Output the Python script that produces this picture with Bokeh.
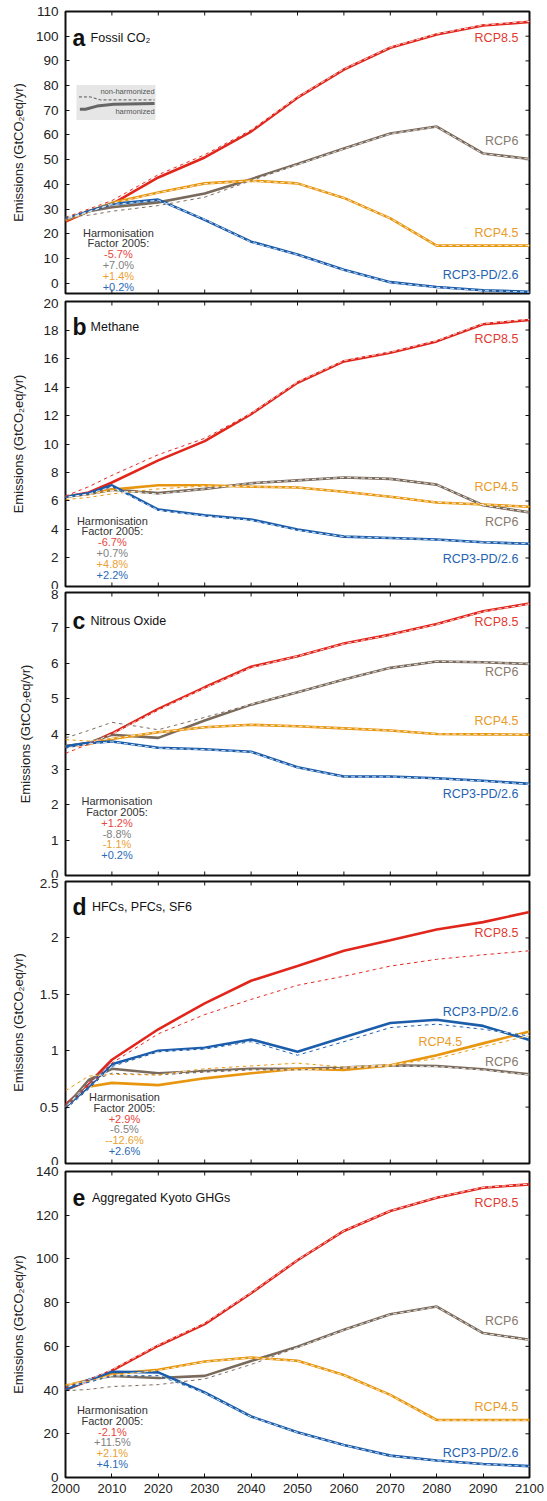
import math
from bokeh.plotting import figure
from bokeh.layouts import column
from bokeh.models import FixedTicker, Label, Range1d, CustomJSTickFormatter, AllLabels
from bokeh.embed import file_html
from bokeh.resources import INLINE

FONT = "Liberation Sans"

# ---------------- data ----------------
years = [2000, 2005, 2010, 2020, 2030, 2040, 2050, 2060, 2070, 2080, 2090, 2100]
scenarios = ["RCP8.5", "RCP6", "RCP4.5", "RCP3-PD/2.6"]
x_ticks = [2000, 2010, 2020, 2030, 2040, 2050, 2060, 2070, 2080, 2090, 2100]

# (a) Fossil CO2  -- harmonized (h) and non-harmonized (n)
co2_rcp85_h = [24.9, 29.1, 32.0, 42.8, 50.9, 61.4, 75.1, 86.5, 95.3, 100.7, 104.3, 105.8]
co2_rcp85_n = [26.6, 30.0, 33.4, 43.9, 52.0, 62.0, 75.3, 86.7, 95.5, 100.9, 104.5, 106.0]
co2_rcp6_h = [25.5, 29.1, 30.7, 32.7, 36.3, 42.1, 48.2, 54.5, 60.6, 63.4, 52.5, 50.3]
co2_rcp6_n = [26.9, 27.5, 29.1, 31.4, 34.8, 41.5, 48.0, 54.4, 60.5, 63.3, 52.4, 50.2]
co2_rcp45_h = [25.5, 29.1, 32.5, 36.7, 40.4, 41.5, 40.4, 34.5, 26.2, 15.2, 15.2, 15.2]
co2_rcp45_n = [25.8, 28.7, 32.3, 36.6, 40.3, 41.4, 40.4, 34.5, 26.2, 15.2, 15.2, 15.2]
co2_rcp26_h = [26.0, 29.1, 32.0, 33.8, 25.6, 16.8, 11.6, 5.4, 0.4, -1.6, -2.9, -3.5]
co2_rcp26_n = [26.2, 29.0, 31.8, 33.6, 25.8, 16.6, 11.5, 5.3, 0.3, -1.7, -3.0, -3.6]
co2_factor = ["-5.7%", "+7.0%", "+1.4%", "+0.2%"]

# (b) Methane
ch4_rcp85_h = [6.3, 6.6, 7.3, 8.85, 10.2, 12.1, 14.3, 15.8, 16.4, 17.2, 18.4, 18.7]
ch4_rcp85_n = [6.35, 7.0, 7.8, 9.25, 10.4, 12.15, 14.35, 15.85, 16.45, 17.25, 18.45, 18.75]
ch4_rcp6_h = [6.3, 6.5, 6.8, 6.55, 6.85, 7.25, 7.45, 7.65, 7.55, 7.15, 5.7, 5.2]
ch4_rcp6_n = [6.25, 6.45, 6.75, 6.5, 6.85, 7.25, 7.45, 7.65, 7.55, 7.15, 5.7, 5.2]
ch4_rcp45_h = [6.3, 6.5, 6.8, 7.1, 7.1, 7.0, 6.95, 6.65, 6.3, 5.9, 5.75, 5.6]
ch4_rcp45_n = [6.1, 6.25, 6.5, 6.85, 7.05, 7.0, 6.95, 6.65, 6.3, 5.9, 5.75, 5.6]
ch4_rcp26_h = [6.3, 6.55, 7.1, 5.4, 5.0, 4.7, 4.0, 3.5, 3.4, 3.3, 3.1, 3.0]
ch4_rcp26_n = [6.25, 6.5, 7.0, 5.35, 4.95, 4.65, 3.95, 3.5, 3.4, 3.28, 3.1, 3.0]
ch4_factor = ["-6.7%", "+0.7%", "+4.8%", "+2.2%"]

# (c) Nitrous oxide
n2o_rcp85_h = [3.65, 3.72, 4.02, 4.71, 5.32, 5.9, 6.2, 6.56, 6.81, 7.11, 7.47, 7.69]
n2o_rcp85_n = [3.45, 3.72, 4.0, 4.68, 5.3, 5.88, 6.2, 6.55, 6.8, 7.1, 7.46, 7.68]
n2o_rcp6_h = [3.65, 3.75, 3.98, 3.89, 4.38, 4.83, 5.18, 5.54, 5.87, 6.05, 6.03, 5.98]
n2o_rcp6_n = [3.89, 4.1, 4.33, 4.12, 4.47, 4.84, 5.18, 5.54, 5.87, 6.05, 6.03, 5.98]
n2o_rcp45_h = [3.65, 3.72, 3.86, 4.05, 4.19, 4.26, 4.22, 4.16, 4.1, 4.0, 3.99, 3.98]
n2o_rcp45_n = [3.84, 3.8, 3.87, 4.05, 4.19, 4.26, 4.22, 4.16, 4.1, 4.0, 3.99, 3.98]
n2o_rcp26_h = [3.65, 3.75, 3.79, 3.61, 3.57, 3.5, 3.06, 2.8, 2.8, 2.75, 2.68, 2.59]
n2o_rcp26_n = [3.6, 3.72, 3.78, 3.6, 3.56, 3.49, 3.05, 2.79, 2.79, 2.74, 2.67, 2.58]
n2o_factor = ["+1.2%", "-8.8%", "-1.1%", "+0.2%"]

# (d) HFCs, PFCs, SF6
hfc_rcp85_h = [0.52, 0.71, 0.92, 1.19, 1.42, 1.62, 1.75, 1.886, 1.98, 2.075, 2.14, 2.23]
hfc_rcp85_n = [0.5, 0.69, 0.89, 1.15, 1.32, 1.455, 1.58, 1.66, 1.75, 1.81, 1.85, 1.886]
hfc_rcp6_h = [0.5, 0.74, 0.84, 0.80, 0.82, 0.84, 0.84, 0.85, 0.87, 0.865, 0.835, 0.79]
hfc_rcp6_n = [0.5, 0.72, 0.80, 0.785, 0.81, 0.83, 0.83, 0.845, 0.865, 0.86, 0.83, 0.785]
hfc_rcp45_h = [0.5, 0.68, 0.715, 0.695, 0.755, 0.80, 0.84, 0.83, 0.87, 0.96, 1.065, 1.17]
hfc_rcp45_n = [0.645, 0.775, 0.79, 0.785, 0.84, 0.865, 0.89, 0.855, 0.875, 0.93, 1.035, 1.135]
hfc_rcp26_h = [0.5, 0.68, 0.88, 1.0, 1.025, 1.1, 0.99, 1.12, 1.245, 1.275, 1.22, 1.095]
hfc_rcp26_n = [0.48, 0.66, 0.86, 0.99, 1.015, 1.08, 0.96, 1.08, 1.205, 1.235, 1.19, 1.13]
hfc_factor = ["+2.9%", "-6.5%", "--12.6%", "+2.6%"]

# (e) Aggregated Kyoto GHGs
ghg_rcp85_h = [40.1, 44.3, 48.9, 60.3, 70.2, 84.3, 99.4, 112.8, 121.9, 128.0, 132.6, 134.1]
ghg_rcp85_n = [41.0, 44.8, 49.3, 60.6, 70.6, 84.5, 99.5, 112.9, 122.0, 128.1, 132.7, 134.2]
ghg_rcp6_h = [40.1, 44.6, 46.5, 45.5, 46.5, 53.3, 59.8, 67.6, 74.7, 78.2, 66.1, 63.0]
ghg_rcp6_n = [39.7, 40.3, 41.6, 42.5, 45.1, 51.7, 59.5, 67.5, 74.6, 78.1, 66.0, 62.9]
ghg_rcp45_h = [42.0, 44.6, 47.3, 49.3, 53.1, 54.9, 53.4, 46.9, 37.8, 26.3, 26.3, 26.3]
ghg_rcp45_n = [42.5, 44.0, 46.8, 49.0, 53.0, 54.8, 53.3, 46.8, 37.7, 26.2, 26.2, 26.2]
ghg_rcp26_h = [40.5, 44.6, 48.4, 48.1, 38.9, 27.9, 20.7, 14.9, 10.0, 7.8, 6.2, 5.2]
ghg_rcp26_n = [41.6, 43.5, 46.5, 46.6, 38.7, 27.8, 20.6, 14.8, 9.9, 7.7, 6.1, 5.1]
ghg_factor = ["-2.1%", "+11.5%", "+2.1%", "+4.1%"]

# legend sample (panel a)
legend_dash_x = [2002.9, 2005.4, 2007.5, 2019.2]
legend_dash_y = [75.4, 75.4, 74.2, 74.2]
legend_solid_x = [2003.1, 2004.3, 2006.8, 2010.4, 2019.2]
legend_solid_y = [70.4, 70.4, 71.7, 72.4, 72.7]

# ---------------- styling ----------------
line_colors = ["#e1261c", "#7a6a5c", "#e8960f", "#1b5dab"]
label_colors = ["#e23a30", "#877a6f", "#e99b28", "#2563b1"]
pct_colors = ["#e8463d", "#7f7f7f", "#eba133", "#2a69b8"]
TXT = "#222222"
TICK = "#111111"

panels = [
    dict(letter="a", name="Fossil CO\u2082",
         series=[(co2_rcp85_h, co2_rcp85_n), (co2_rcp6_h, co2_rcp6_n),
                 (co2_rcp45_h, co2_rcp45_n), (co2_rcp26_h, co2_rcp26_n)],
         factor=co2_factor, yr=(-4.2, 110), yticks=list(range(0, 111, 10)),
         fh=282, top=11, bottom=5, ylab_standoff=7,
         lab_y=[99.2, 57.6, 20.5, 3.1], lab_x=[2097.6] * 4,
         title_y=99.3, harm=(2011.4, 20.5)),
    dict(letter="b", name="Methane",
         series=[(ch4_rcp85_h, ch4_rcp85_n), (ch4_rcp6_h, ch4_rcp6_n),
                 (ch4_rcp45_h, ch4_rcp45_n), (ch4_rcp26_h, ch4_rcp26_n)],
         factor=ch4_factor, yr=(0, 20), yticks=list(range(0, 21, 2)),
         fh=285, top=3, bottom=3, ylab_standoff=14,
         lab_y=[17.4, 4.5, 6.97, 1.94], lab_x=[2097.6] * 4,
         title_y=18.2, harm=(2010.1, 4.63)),
    dict(letter="c", name="Nitrous Oxide",
         series=[(n2o_rcp85_h, n2o_rcp85_n), (n2o_rcp6_h, n2o_rcp6_n),
                 (n2o_rcp45_h, n2o_rcp45_n), (n2o_rcp26_h, n2o_rcp26_n)],
         factor=n2o_factor, yr=(0, 8), yticks=list(range(0, 9)),
         fh=283, top=3, bottom=3, ylab_standoff=15,
         lab_y=[7.16, 5.74, 4.36, 2.31], lab_x=[2097.6] * 4,
         title_y=7.2, harm=(2011.1, 2.1)),
    dict(letter="d", name="HFCs, PFCs, SF6",
         series=[(hfc_rcp85_h, hfc_rcp85_n), (hfc_rcp6_h, hfc_rcp6_n),
                 (hfc_rcp45_h, hfc_rcp45_n), (hfc_rcp26_h, hfc_rcp26_n)],
         factor=hfc_factor, yr=(0, 2.5), yticks=[0, 0.5, 1, 1.5, 2, 2.5],
         fh=282, top=3, bottom=2, ylab_standoff=11,
         lab_y=[2.04, 0.9, 1.079, 1.345], lab_x=[2097.6, 2097.6, 2085.5, 2097.6],
         title_y=2.27, harm=(2012.7, 0.59)),
    dict(letter="e", name="Aggregated Kyoto GHGs",
         series=[(ghg_rcp85_h, ghg_rcp85_n), (ghg_rcp6_h, ghg_rcp6_n),
                 (ghg_rcp45_h, ghg_rcp45_n), (ghg_rcp26_h, ghg_rcp26_n)],
         factor=ghg_factor, yr=(0, 140), yticks=list(range(0, 141, 20)),
         fh=306, top=6, bottom=23, ylab_standoff=7,
         lab_y=[125.7, 71.7, 32.4, 11.1], lab_x=[2097.6] * 4,
         title_y=128.0, harm=(2010.1, 30.9)),
]

FRAME_W = 464
LINE_SP_PX = 10.8


def tick_text(v):
    return str(int(v)) if float(v).is_integer() else str(v)


figs = []
for i, P in enumerate(panels):
    last = (i == len(panels) - 1)
    y0, y1 = P["yr"]
    ppu = P["fh"] / (y1 - y0)
    eps = (y1 - y0) * 1e-5
    p = figure(x_range=Range1d(2000 - 1e-4, 2100 + 1e-4),
               y_range=Range1d(y0 - eps, y1 + eps),
               frame_width=FRAME_W, frame_height=P["fh"],
               min_border_left=65, min_border_right=18,
               min_border_top=P["top"], min_border_bottom=P["bottom"],
               toolbar_location=None, output_backend="svg", title=None,
               background_fill_color="white", border_fill_color="white")
    p.grid.visible = False
    p.outline_line_color = TICK
    p.outline_line_width = 2

    # bottom x axis: labelled only on the last panel
    xa = p.xaxis[0]
    if last:
        xa.ticker = FixedTicker(ticks=x_ticks)
        xa.axis_line_color = None
        xa.major_tick_in = 4
        xa.major_tick_out = 0
        xa.major_tick_line_color = TICK
        xa.minor_tick_line_color = None
        xa.major_label_text_font = FONT
        xa.major_label_text_color = TXT
        xa.major_label_text_font_size = "13px"
        xa.major_label_standoff = 6
        xa.major_label_policy = AllLabels()
    else:
        xa.visible = False
        # inward ticks on the bottom edge (half of each dash is clipped by the frame)
        p.scatter(x_ticks, [y0] * len(x_ticks), marker="dash", size=8, angle=math.pi / 2,
                  line_color=TICK, line_width=1)

    # inward ticks on top and right edges
    p.scatter(x_ticks, [y1] * len(x_ticks), marker="dash", size=8, angle=math.pi / 2,
              line_color=TICK, line_width=1)
    p.scatter([2100] * len(P["yticks"]), P["yticks"], marker="dash", size=8,
              line_color=TICK, line_width=1)

    # left y axis
    ya = p.yaxis[0]
    ya.ticker = FixedTicker(ticks=P["yticks"])
    ya.formatter = CustomJSTickFormatter(code="return String(tick);")
    ya.major_label_overrides = {v: tick_text(v) for v in P["yticks"]}
    ya.major_label_policy = AllLabels()
    ya.axis_line_color = None
    ya.major_tick_in = 4
    ya.major_tick_out = 0
    ya.major_tick_line_color = TICK
    ya.minor_tick_line_color = None
    ya.major_label_text_font = FONT
    ya.major_label_text_font_size = "13.5px"
    ya.major_label_text_color = TXT
    ya.major_label_standoff = 7
    ya.axis_label = "Emissions (GtCO\u2082eq/yr)"
    ya.axis_label_text_font = FONT
    ya.axis_label_text_font_size = "13px"
    ya.axis_label_text_font_style = "normal"
    ya.axis_label_text_color = TXT
    ya.axis_label_standoff = P["ylab_standoff"]

    # data lines
    for k, (h, n) in enumerate(P["series"]):
        p.line(years, h, line_color=line_colors[k], line_width=2.6)
    for k, (h, n) in enumerate(P["series"]):
        p.line(years, n, line_color=line_colors[k], line_width=1, line_dash="4 3")
        p.line(years, n, line_color="white", line_width=1, line_dash="4 3",
               line_dash_offset=4, line_alpha=0.8)

    # scenario labels
    for k, s in enumerate(scenarios):
        p.add_layout(Label(x=P["lab_x"][k], y=P["lab_y"][k], text=s,
                           text_align="right", text_baseline="middle",
                           text_font=FONT, text_font_size="12.5px",
                           text_color=label_colors[k]))

    # panel title
    p.add_layout(Label(x=2001.5, y=P["title_y"], text=P["letter"],
                       text_align="left", text_baseline="alphabetic",
                       text_font=FONT, text_font_size="23px", text_font_style="bold",
                       text_color="#111111"))
    p.add_layout(Label(x=2005.4 + (0.3 if P["letter"] in "de" else 0), y=P["title_y"],
                       text=P["name"], text_align="left", text_baseline="alphabetic",
                       text_font=FONT, text_font_size="12.5px", text_color="#111111"))

    # harmonisation text
    dy = LINE_SP_PX / ppu
    hx, hy = P["harm"]
    lines = [("Harmonisation", "#333333"), ("Factor 2005:", "#333333")] + \
            [(P["factor"][k], pct_colors[k]) for k in range(4)]
    for j, (t, col) in enumerate(lines):
        p.add_layout(Label(x=hx, y=hy - j * dy, text=t, text_align="center",
                           text_baseline="middle", text_font=FONT,
                           text_font_size="11px", text_color=col))

    if P["letter"] == "a":
        p.quad(left=[2002.37], right=[2019.4], bottom=[66.1], top=[80.2],
               fill_color="#e6e6e6", line_color=None)
        p.line(legend_dash_x, legend_dash_y, line_color="#555555", line_width=1,
               line_dash="3 2")
        p.line(legend_solid_x, legend_solid_y, line_color="#666666", line_width=3)
        p.add_layout(Label(x=2019.2, y=77.5, text="non-harmonized", text_align="right",
                           text_baseline="middle", text_font=FONT,
                           text_font_size="7.5px", text_color="#555555"))
        p.add_layout(Label(x=2019.2, y=69.7, text="harmonized", text_align="right",
                           text_baseline="middle", text_font=FONT,
                           text_font_size="7.5px", text_color="#555555"))
    figs.append(p)

layout = column(*figs, spacing=0)
open("out.html", "w").write(file_html(layout, INLINE))
